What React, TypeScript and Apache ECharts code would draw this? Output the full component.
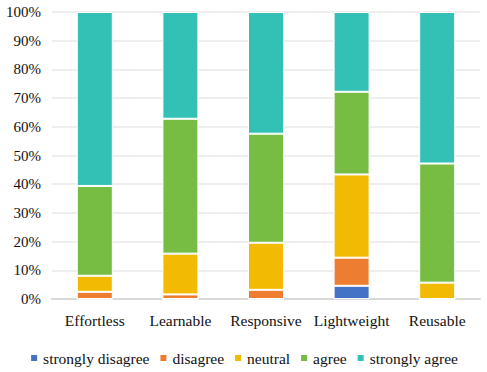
import React, { useEffect, useRef } from "react";
import * as echarts from "echarts";

const categories = ["Effortless", "Learnable", "Responsive", "Lightweight", "Reusable"];
const seriesNames = ["strongly disagree", "disagree", "neutral", "agree", "strongly agree"];
const stronglyDisagree = [0, 0, 0, 4.6, 0];
const disagree = [2.5, 1.6, 3.2, 9.8, 0];
const neutral = [5.6, 14.2, 16.4, 29.0, 5.7];
const agree = [31.3, 47.0, 38.0, 28.8, 41.5];
const stronglyAgree = [60.6, 37.2, 42.4, 27.8, 52.8];
const colors = ["#4472C4", "#ED7D31", "#F2BA02", "#77BC43", "#32C1B4"];
const yTicks = [0, 10, 20, 30, 40, 50, 60, 70, 80, 90, 100];

const FONT = "Liberation Serif";

export default function App() {
  const ref = useRef<HTMLDivElement>(null);
  useEffect(() => {
    if (!ref.current) return;
    const chart = echarts.init(ref.current, null, { renderer: "svg" });
    const data = [stronglyDisagree, disagree, neutral, agree, stronglyAgree];
    chart.setOption({
      animation: false,
      textStyle: { fontFamily: FONT },
      grid: { left: 52, right: 7, top: 12, bottom: 73 },
      legend: {
        top: 350,
        left: "center",
        width: 487,
        padding: 0,
        itemWidth: 8,
        itemHeight: 8,
        itemGap: 9,
        icon: "rect",
        textStyle: { fontFamily: FONT, fontSize: 15.5, color: "#111" },
        data: seriesNames,
      },
      xAxis: {
        type: "category",
        data: categories,
        axisTick: { show: false },
        axisLine: { lineStyle: { color: "#d9d9d9", width: 2 } },
        axisLabel: {
          fontFamily: FONT,
          fontSize: 15.5,
          color: "#111",
          margin: 13,
          interval: 0,
        },
      },
      yAxis: {
        type: "value",
        min: yTicks[0],
        max: yTicks[yTicks.length - 1],
        interval: 10,
        axisLine: { show: false },
        axisTick: { show: false },
        splitLine: { lineStyle: { color: "#e8e8e8", width: 1.5 } },
        axisLabel: {
          fontFamily: FONT,
          fontSize: 15,
          color: "#111",
          margin: 11,
          formatter: (v: number) => `${v}%`,
        },
      },
      series: seriesNames.map((name, i) => ({
        name,
        type: "bar",
        stack: "total",
        barWidth: 36,
        data: data[i],
        itemStyle: { color: colors[i], borderColor: "#fff", borderWidth: 1 },
      })),
    });
    return () => chart.dispose();
  }, []);
  return <div ref={ref} style={{ width: 487, height: 372, position: "absolute", left: 0, top: 0 }} />;
}
